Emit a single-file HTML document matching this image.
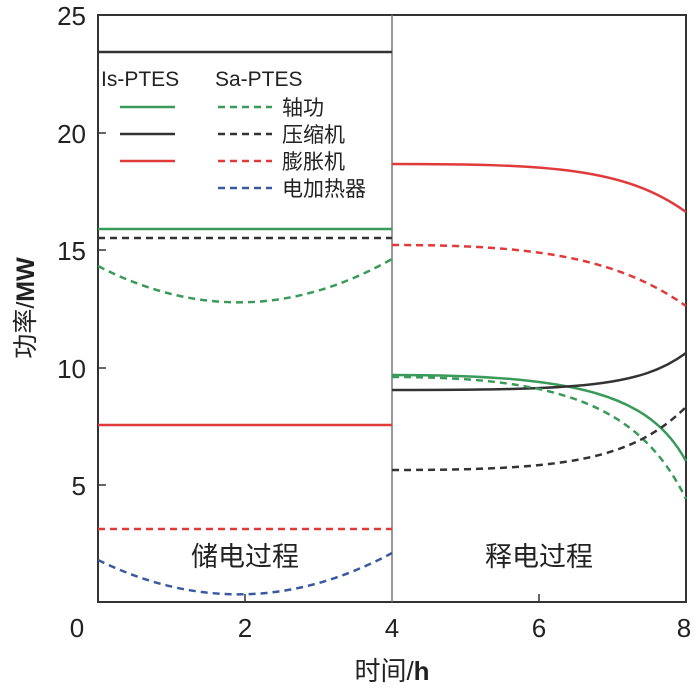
<!DOCTYPE html>
<html><head><meta charset="utf-8"><style>
body{margin:0;background:#fff;}
text{font-family:"Liberation Sans","Noto Sans CJK SC",sans-serif;}
</style></head><body>
<svg width="700" height="687" viewBox="0 0 700 687" xmlns="http://www.w3.org/2000/svg">
<rect x="98" y="15" width="588" height="587" fill="none" stroke="#333" stroke-width="2"/>
<line x1="392" y1="15" x2="392" y2="602" stroke="#777" stroke-width="1.5"/>
<g stroke="#333" stroke-width="1.5">
<line x1="98" y1="485" x2="106" y2="485"/><line x1="98" y1="368" x2="106" y2="368"/>
<line x1="98" y1="250" x2="106" y2="250"/><line x1="98" y1="133" x2="106" y2="133"/>
<line x1="245" y1="602" x2="245" y2="594"/><line x1="539" y1="602" x2="539" y2="594"/>
</g>
<g font-size="26" fill="#222" text-anchor="end">
<text x="86" y="25">25</text><text x="86" y="143">20</text><text x="86" y="260">15</text>
<text x="86" y="378">10</text><text x="86" y="495">5</text>
</g>
<g font-size="26" fill="#222" text-anchor="middle">
<text x="77" y="637">0</text><text x="245" y="637">2</text><text x="392" y="637">4</text>
<text x="539" y="637">6</text><text x="684" y="637">8</text>
<text x="392" y="680">时间/<tspan font-weight="bold">h</tspan></text>
</g>
<text transform="translate(34,308) rotate(-90)" font-size="25" fill="#222" text-anchor="middle">功率/<tspan font-weight="bold">MW</tspan></text>
<text x="245" y="566" font-size="27" fill="#222" text-anchor="middle">储电过程</text>
<text x="539" y="566" font-size="27" fill="#222" text-anchor="middle">释电过程</text>
<!-- legend -->
<text x="101" y="86" font-size="21" fill="#222">Is-PTES</text>
<text x="215" y="86" font-size="21" fill="#222">Sa-PTES</text>
<g stroke-width="2.5" fill="none">
<line x1="120" y1="107" x2="175" y2="107" stroke="#3a9a5a"/>
<line x1="120" y1="134" x2="175" y2="134" stroke="#333"/>
<line x1="120" y1="161" x2="175" y2="161" stroke="#e03a3a"/>
<g stroke-dasharray="7,5">
<line x1="218" y1="107" x2="272" y2="107" stroke="#3a9a5a"/>
<line x1="218" y1="134" x2="272" y2="134" stroke="#333"/>
<line x1="218" y1="161" x2="272" y2="161" stroke="#e03a3a"/>
<line x1="218" y1="188" x2="272" y2="188" stroke="#3a5aa0"/>
</g></g>
<g font-size="21" fill="#222">
<text x="282" y="115">轴功</text><text x="282" y="142">压缩机</text>
<text x="282" y="169">膨胀机</text><text x="282" y="196">电加热器</text>
</g>
<!-- series -->
<g stroke-width="2.5" fill="none">
<line x1="98" y1="52" x2="392" y2="52" stroke="#333"/>
<line x1="98" y1="229" x2="392" y2="229" stroke="#3a9a5a"/>
<line x1="98" y1="425" x2="392" y2="425" stroke="#e03a3a"/>
<path d="M392,164 C550,164 625,168 686,212" stroke="#e03a3a"/>
<path d="M392,375 C580,375 650,395 686,461" stroke="#3a9a5a"/>
<path d="M392,390 C580,390 640,387 686,353" stroke="#333"/>
<g stroke-dasharray="7,5">
<line x1="98" y1="238" x2="392" y2="238" stroke="#333"/>
<line x1="98" y1="529" x2="392" y2="529" stroke="#e03a3a"/>
<path d="M98,266 Q245,342 392,259" stroke="#3a9a5a"/>
<path d="M98,560 Q245,632 392,553" stroke="#3a5aa0"/>
<path d="M392,245 C530,245 615,256 686,306" stroke="#e03a3a"/>
<path d="M392,377 C560,377 640,405 686,499" stroke="#3a9a5a"/>
<path d="M392,470 C560,470 630,462 686,407" stroke="#333"/>
</g></g>
</svg>
</body></html>
